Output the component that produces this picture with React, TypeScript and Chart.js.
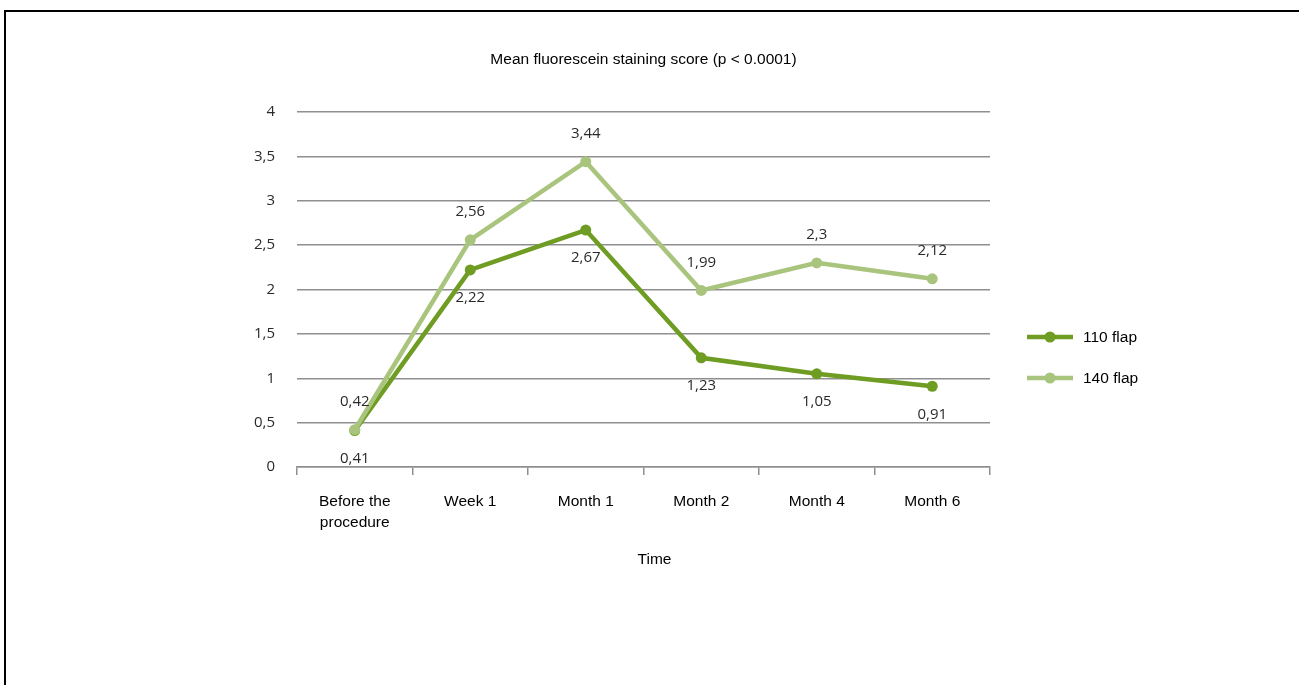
import React, { useEffect, useRef } from "react";
import { Chart, registerables } from "chart.js";

Chart.register(...registerables);

const categories: (string | string[])[] = [["Before the", "procedure"], "Week 1", "Month 1", "Month 2", "Month 4", "Month 6"];
const seriesNames = ["110 flap", "140 flap"];
const flap110 = [0.41, 2.22, 2.67, 1.23, 1.05, 0.91];
const flap140 = [0.42, 2.56, 3.44, 1.99, 2.3, 2.12];
const yMin = 0;
const yMax = 4;
const yStep = 0.5;
const chartTitle = "Mean fluorescein staining score (p < 0.0001)";
const xAxisTitle = "Time";

const COLOR_110 = "#6f9c22";
const COLOR_140 = "#a9c57d";
const GRID = "#8f8f8f";
const SANS = "'Liberation Sans', Arial, sans-serif";
const NUM = "'Open Sans', sans-serif";

const fmt = (v: number) => String(v).replace(".", ",");

const overlayPlugin = {
  id: "overlay",
  beforeDraw(chart: any) {
    const { ctx, width, height } = chart;
    ctx.save();
    ctx.fillStyle = "#ffffff";
    ctx.fillRect(0, 0, width, height);
    ctx.fillStyle = "#000000";
    ctx.fillRect(4, 10, 2, height - 10);
    ctx.fillRect(4, 10, width - 4, 2);
    ctx.restore();
  },
  afterDatasetsDraw(chart: any) {
    const { ctx } = chart;
    ctx.save();
    ctx.font = `15px ${NUM}`;
    ctx.fillStyle = "#2a2a2a";
    ctx.textAlign = "center";
    ctx.textBaseline = "middle";
    chart.data.datasets.forEach((ds: any, i: number) => {
      const meta = chart.getDatasetMeta(i);
      const off = ds.label === seriesNames[1] ? -28 : 28;
      meta.data.forEach((pt: any, j: number) => {
        ctx.fillText(fmt(ds.data[j]), pt.x, pt.y + off);
      });
    });
    ctx.restore();
  },
  afterDraw(chart: any) {
    const { ctx, chartArea } = chart;
    const cx = (chartArea.left + chartArea.right) / 2;
    ctx.save();
    ctx.fillStyle = "#000000";
    ctx.font = `15.5px ${SANS}`;
    ctx.textAlign = "center";
    ctx.textBaseline = "middle";
    ctx.fillText(chartTitle, cx, 60);
    ctx.fillText(xAxisTitle, cx + 11, chartArea.bottom + 93);

    // legend
    const colors = [COLOR_110, COLOR_140];
    const lx = chartArea.right + 37;
    seriesNames.forEach((name, i) => {
      const y = chartArea.top + 225 + i * 41;
      ctx.strokeStyle = colors[i];
      ctx.lineWidth = 4.5;
      ctx.beginPath();
      ctx.moveTo(lx, y);
      ctx.lineTo(lx + 46, y);
      ctx.stroke();
      ctx.fillStyle = colors[i];
      ctx.beginPath();
      ctx.arc(lx + 23, y, 5.5, 0, Math.PI * 2);
      ctx.fill();
      ctx.fillStyle = "#000000";
      ctx.textAlign = "left";
      ctx.fillText(name, lx + 56, y + 1);
    });
    ctx.restore();
  },
};

export default function App() {
  const ref = useRef<HTMLCanvasElement | null>(null);

  useEffect(() => {
    if (!ref.current) return;
    const chart = new Chart(ref.current, {
      type: "line",
      data: {
        labels: categories,
        datasets: [
          {
            label: seriesNames[0],
            data: flap110,
            borderColor: COLOR_110,
            backgroundColor: COLOR_110,
            pointBackgroundColor: COLOR_110,
            pointBorderWidth: 0,
            pointRadius: 5.5,
            borderWidth: 4.5,
            tension: 0,
            order: 1,
          },
          {
            label: seriesNames[1],
            data: flap140,
            borderColor: COLOR_140,
            backgroundColor: COLOR_140,
            pointBackgroundColor: COLOR_140,
            pointBorderWidth: 0,
            pointRadius: 5.5,
            borderWidth: 4.5,
            tension: 0,
            order: 0,
          },
        ],
      },
      options: {
        animation: false,
        responsive: true,
        maintainAspectRatio: false,
        layout: { padding: { left: 237, right: 309, top: 112, bottom: 108 } },
        plugins: {
          legend: { display: false },
          title: { display: false },
          tooltip: { enabled: false },
        },
        scales: {
          x: {
            offset: true,
            afterFit: (axis: any) => {
              axis.height = 110;
            },
            grid: {
              offset: true,
              drawOnChartArea: false,
              drawTicks: true,
              tickLength: 8,
              color: GRID,
              lineWidth: 1.5,
            },
            border: { display: true, color: GRID, width: 1.5 },
            ticks: {
              color: "#000000",
              padding: 16,
              maxRotation: 0,
              autoSkip: false,
              font: { family: SANS, size: 15.5, lineHeight: 1.35 },
            },
          },
          y: {
            min: yMin,
            max: yMax,
            afterFit: (axis: any) => {
              axis.width = 60;
            },
            grid: { drawTicks: false, color: GRID, lineWidth: 1.5 },
            border: { display: false },
            ticks: {
              stepSize: yStep,
              padding: 22,
              color: "#2a2a2a",
              font: { family: NUM, size: 15 },
              callback: (v: any) => fmt(Number(v)),
            },
          },
        },
      },
      plugins: [overlayPlugin],
    });
    return () => chart.destroy();
  }, []);

  return (
    <div style={{ position: "fixed", left: 0, top: 0, width: 1299, height: 685 }}>
      <canvas ref={ref} />
    </div>
  );
}
